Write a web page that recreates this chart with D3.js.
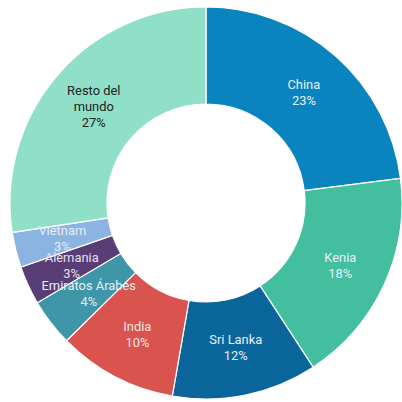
<!DOCTYPE html>
<html><head><meta charset="utf-8">
<script src="https://cdn.jsdelivr.net/npm/d3@7"></script>
<style>html,body{margin:0;padding:0;background:#fff;overflow:hidden}</style>
</head><body><svg id="c" width="402" height="402"></svg>
<script>
const categories = ["China","Kenia","Sri Lanka","India","Emiratos  Árabes","Alemania","Vietnam","Resto del mundo"];
const labelLines = [["China"],["Kenia"],["Sri Lanka"],["India"],["Emiratos  Árabes"],["Alemania"],["Vietnam"],["Resto del","mundo"]];
const values = [23.0,17.8,11.95,9.85,3.9,3.2,2.9,27.4];
const percentLabels = ["23%","18%","12%","10%","4%","3%","3%","27%"];
const colors = ["#0a84bf","#43be9e","#0a659b","#d9534f","#3f96a8","#583d77","#8cb4e3","#90dfc8"];
const textColors = ["#e6f0f8","#e6f0f8","#e6f0f8","#f3e6e6","#e6f0f8","#e6e0ee","#e6eef8","#222"];

const svg = d3.select("#c");
const cx = 206, cy = 203, R = 196, r = 99;
const g = svg.append("g").attr("transform", `translate(${cx},${cy})`);
const pie = d3.pie().sort(null).value(d => d)(values);
const arc = d3.arc().innerRadius(r).outerRadius(R);
const labelArc = d3.arc().innerRadius(148).outerRadius(148);

g.selectAll("path").data(pie).join("path")
  .attr("d", arc)
  .attr("fill", (d,i) => colors[i])
  .attr("stroke", "#fff").attr("stroke-width", 1.2);

const lh = 16;
pie.forEach((d,i) => {
  const [x,y] = labelArc.centroid(d);
  const lines = labelLines[i].concat([percentLabels[i]]);
  const t = g.append("text")
    .attr("text-anchor","middle")
    .attr("font-family","Roboto, sans-serif")
    .attr("font-size", 12.9)
    .attr("fill", textColors[i]);
  const y0 = y - (lines.length - 1) * lh / 2;
  lines.forEach((l,k) => {
    t.append("tspan").attr("x", x).attr("y", y0 + k*lh).attr("dy","0.35em").text(l);
  });
});
</script></body></html>
